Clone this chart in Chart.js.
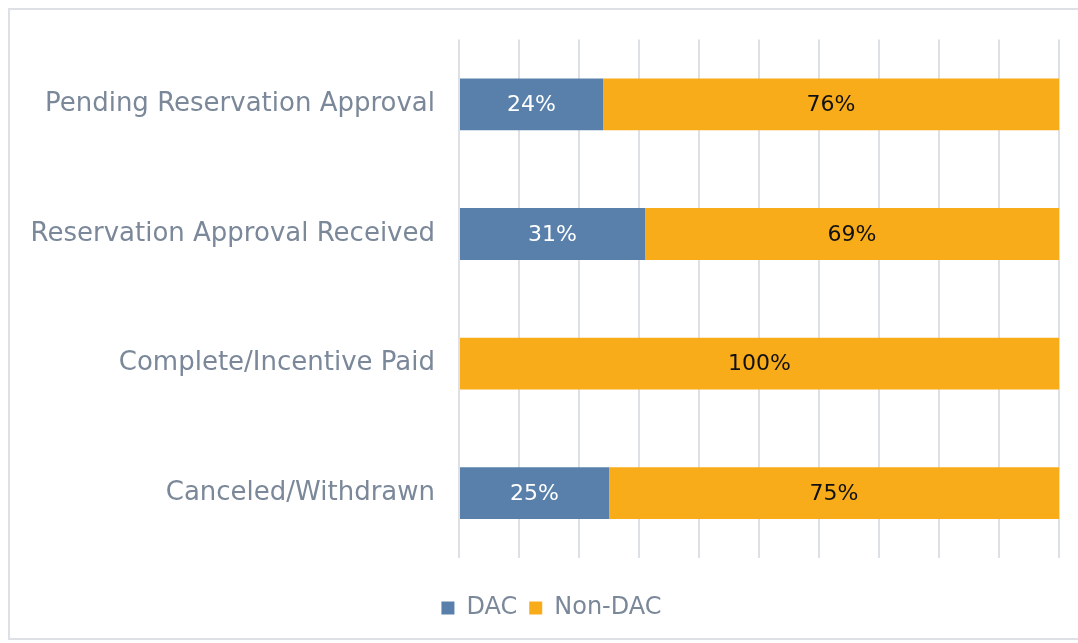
<!DOCTYPE html>
<html>
<head>
<meta charset="utf-8">
<script src="https://cdn.jsdelivr.net/npm/chart.js@4/dist/chart.umd.min.js"></script>
<style>
  html, body { margin: 0; padding: 0; background: #fff; }
  .frame {
    position: absolute; left: 8px; top: 8px; width: 1080px; height: 632px;
    border: 2px solid #dde1e6; box-sizing: border-box;
  }
  .wrap { position: absolute; left: 0; top: 0; width: 1078px; height: 643px; }
</style>
</head>
<body>
<div class="frame"></div>
<div class="wrap"><canvas id="status-chart"></canvas></div>
<script>
const categories = [
  'Pending Reservation Approval',
  'Reservation Approval Received',
  'Complete/Incentive Paid',
  'Canceled/Withdrawn'
];
const dacValues = [24, 31, 0, 25];
const nonDacValues = [76, 69, 100, 75];

const labelColor = '#7b8899';
const gridColor = '#dde1e6';

// draws the percentage inside each segment
const barLabels = {
  id: 'barLabels',
  afterLayout(chart) {
    // let the long category names use the space left of the padding
    chart.scales.y.left = 0;
  },
  afterDatasetsDraw(chart) {
    const ctx = chart.ctx;
    ctx.save();
    ctx.font = '22px "DejaVu Sans"';
    ctx.textAlign = 'center';
    ctx.textBaseline = 'middle';
    chart.data.datasets.forEach((ds, i) => {
      const meta = chart.getDatasetMeta(i);
      meta.data.forEach((bar, j) => {
        const v = ds.data[j];
        if (!v) return;
        ctx.fillStyle = i === 0 ? '#ffffff' : '#111111';
        ctx.fillText(v + '%', (bar.x + bar.base) / 2, bar.y + 1);
      });
    });
    ctx.restore();
  }
};

const container = document.getElementById('status-chart').getContext('2d');

new Chart(container, {
  type: 'bar',
  data: {
    labels: categories,
    datasets: [
      {
        label: 'DAC',
        data: dacValues,
        backgroundColor: '#5880ab',
        barPercentage: 0.4,
        categoryPercentage: 1,
      },
      {
        label: 'Non-DAC',
        data: nonDacValues,
        backgroundColor: '#f9ac1a',
        barPercentage: 0.4,
        categoryPercentage: 1,
      },
    ]
  },
  options: {
    indexAxis: 'y',
    responsive: true,
    maintainAspectRatio: false,
    animation: false,
    layout: {
      padding: { top: 36, right: 19, bottom: 13, left: 44 }
    },
    plugins: {
      legend: {
        position: 'bottom',
        labels: {
          color: labelColor,
          font: { family: 'DejaVu Sans', size: 24 },
          boxWidth: 13,
          boxHeight: 13,
          padding: 12,
          useBorderRadius: false,
        }
      },
      tooltip: { enabled: false },
    },
    scales: {
      x: {
        stacked: true,
        min: 0,
        max: 100,
        afterFit: (scale) => { scale.height = 26; },
        ticks: { display: false, stepSize: 10 },
        grid: { color: gridColor, lineWidth: 2, drawTicks: false },
        border: { display: false },
      },
      y: {
        stacked: true,
        afterFit: (scale) => { scale.width = 415; },
        ticks: {
          color: labelColor,
          padding: 24,
          font: { family: 'DejaVu Sans', size: 26 },
        },
        grid: { display: false, drawTicks: false },
        border: { display: false },
      }
    }
  },
  plugins: [barLabels]
});
</script>
</body>
</html>
